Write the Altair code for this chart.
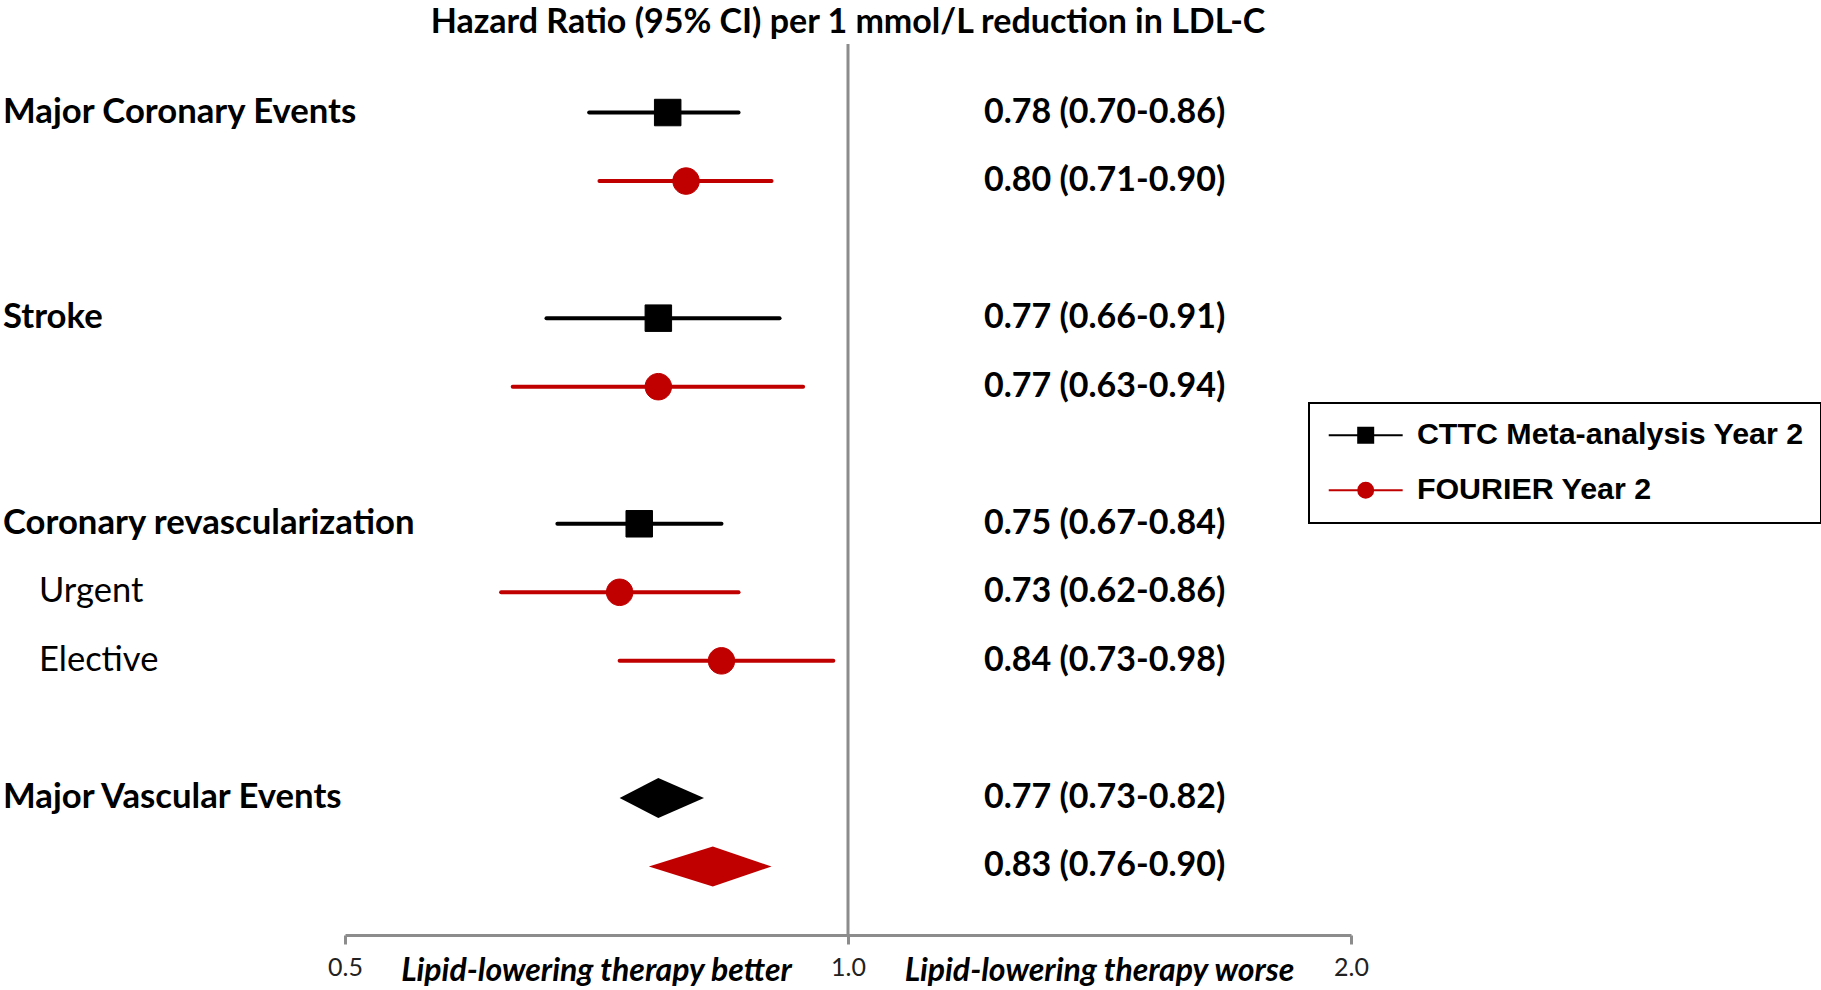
import math
import altair as alt
import pandas as pd

# ---------------- data ----------------
series_names = ["CTTC Meta-analysis Year 2", "FOURIER Year 2"]
series_colors = ["#000000", "#C00000"]

row_pos = [0, 1, 3, 4, 6, 7, 8, 10, 11]
row_series = [0, 1, 0, 1, 0, 1, 1, 0, 1]
hr_est = [0.78, 0.80, 0.77, 0.77, 0.75, 0.73, 0.84, 0.77, 0.83]
ci_low = [0.70, 0.71, 0.66, 0.63, 0.67, 0.62, 0.73, 0.73, 0.76]
ci_high = [0.86, 0.90, 0.91, 0.94, 0.84, 0.86, 0.98, 0.82, 0.90]
row_kind = ["ci", "ci", "ci", "ci", "ci", "ci", "ci", "diamond", "diamond"]

header_rows = [0, 3, 6, 10]
header_labels = ["Major Coronary Events", "Stroke", "Coronary revascularization", "Major Vascular Events"]
sub_rows = [7, 8]
sub_labels = ["Urgent", "Elective"]

x_ticks = [0.5, 1.0, 2.0]
title_text = "Hazard Ratio (95% CI) per 1 mmol/L reduction in LDL-C"
side_texts = ["Lipid-lowering therapy better", "Lipid-lowering therapy worse"]

# ---------------- styling ----------------
FONT = "Lato"
GRAY = "#8c8c8c"
W, H = 1006, 891
DIAMOND_HALF = 0.292  # half height of summary diamond, in row units

df = pd.DataFrame({
    "row": row_pos,
    "series": [series_names[i] for i in row_series],
    "hr": hr_est,
    "lo": ci_low,
    "hi": ci_high,
    "kind": row_kind,
})
df["label"] = [f"{e:.2f} ({l:.2f}-{h:.2f})" for e, l, h in zip(hr_est, ci_low, ci_high)]
ci_df = df[df["kind"] == "ci"]

dia = df[df["kind"] == "diamond"]
poly = []
for _, r in dia.iterrows():
    rw = float(r["row"])
    poly.append({"grp": int(r["row"]), "series": r["series"], "px": float(r["lo"]), "ylo": rw, "yhi": rw, "k": 0})
    poly.append({"grp": int(r["row"]), "series": r["series"], "px": float(r["hr"]), "ylo": rw - DIAMOND_HALF, "yhi": rw + DIAMOND_HALF, "k": 1})
    poly.append({"grp": int(r["row"]), "series": r["series"], "px": float(r["hi"]), "ylo": rw, "yhi": rw, "k": 2})
poly_df = pd.DataFrame(poly)

head_df = pd.DataFrame({"row": header_rows, "text": header_labels})
sub_df = pd.DataFrame({"row": sub_rows, "text": sub_labels})
side_df = pd.DataFrame({
    "pos": [math.sqrt(x_ticks[0] * x_ticks[1]), math.sqrt(x_ticks[1] * x_ticks[2])],
    "text": side_texts,
})
ref_df = pd.DataFrame({"ref": [x_ticks[1]]})

# ---------------- scales ----------------
x_scale = alt.Scale(type="log", base=2, domain=[x_ticks[0], x_ticks[-1]], nice=False)
x_axis = alt.Axis(values=x_ticks, format=".1f", title=None, grid=False,
                  domainColor=GRAY, domainWidth=3, tickColor=GRAY, tickWidth=3, tickSize=9,
                  labelFont=FONT, labelFontSize=25, labelColor="#222222", labelPadding=11,
                  labelFlush=False, labelOverlap=False)
y_scale = alt.Scale(domain=[-1, 12], reverse=True, nice=False, zero=False)
color_scale = alt.Scale(domain=series_names, range=series_colors)
L = 4.93
shape_scale = alt.Scale(domain=series_names, range=[
    f"M-{L},0H{L}M-1,-1H1V1H-1Z",
    f"M-{L},0H{L}M-1,0A1,1,0,1,0,1,0A1,1,0,1,0,-1,0Z",
])
leg = alt.Legend(orient="none", legendX=964, legendY=359, padding=17,
                 strokeColor="black", fillColor="white",
                 labelFont="Liberation Sans", labelFontSize=30.4, labelFontWeight="bold",
                 labelColor="black", labelLimit=700,
                 symbolSize=225, symbolStrokeWidth=2, symbolOffset=24.5, labelOffset=36,
                 rowPadding=24)

COLOR = alt.Color("series:N", scale=color_scale, legend=leg, title=None)
Y = alt.Y("row:Q", scale=y_scale, axis=None)

vline = alt.Chart(ref_df).mark_rule(color=GRAY, strokeWidth=3).encode(
    x=alt.X("ref:Q", scale=x_scale, axis=x_axis)
)

ci_rules = alt.Chart(ci_df).mark_rule(strokeWidth=4, strokeCap="round").encode(
    x=alt.X("lo:Q", scale=x_scale, axis=x_axis),
    x2="hi:Q",
    y=Y,
    color=COLOR,
)

points = alt.Chart(ci_df).mark_point(filled=True, opacity=1, strokeWidth=1, size=702).encode(
    x=alt.X("hr:Q", scale=x_scale, axis=x_axis),
    y=Y,
    color=COLOR,
    stroke=alt.Stroke("series:N", scale=color_scale, legend=leg, title=None),
    shape=alt.Shape("series:N", scale=shape_scale, legend=leg, title=None),
)

# summary diamonds: one filled area per summary row (lo -> estimate -> hi)
diamond_layers = []
for g in sorted(poly_df["grp"].unique()):
    part = poly_df[poly_df["grp"] == g].sort_values("k")
    diamond_layers.append(
        alt.Chart(part).mark_area(opacity=1, interpolate="linear").encode(
            x=alt.X("px:Q", scale=x_scale, axis=x_axis),
            y=alt.Y("ylo:Q", scale=y_scale, axis=None),
            y2="yhi:Q",
            color=COLOR,
        )
    )

right_text = alt.Chart(df).mark_text(align="left", baseline="middle", font=FONT, fontSize=34,
                                     fontWeight="bold", color="black").encode(
    x=alt.value(639), y=Y, text="label:N"
)

head_text = alt.Chart(head_df).mark_text(align="left", baseline="middle", font=FONT, fontSize=34.7,
                                         fontWeight="bold", color="black").encode(
    x=alt.value(-342), y=Y, text="text:N"
)

sub_text = alt.Chart(sub_df).mark_text(align="left", baseline="middle", font=FONT, fontSize=34.5,
                                       fontWeight="normal", color="black").encode(
    x=alt.value(-306), y=Y, text="text:N"
)

side_text = alt.Chart(side_df).mark_text(align="center", baseline="middle", font=FONT, fontSize=32,
                                         fontWeight="bold", fontStyle="italic", color="black").encode(
    x=alt.X("pos:Q", scale=x_scale, axis=x_axis), y=alt.value(927), text="text:N"
)

chart = alt.layer(vline, ci_rules, *diamond_layers, points, right_text, head_text, sub_text, side_text).properties(
    width=W, height=H,
    title=alt.TitleParams(text=title_text, font=FONT, fontSize=34, fontWeight="bold", color="black",
                          anchor="middle", frame="group", offset=3),
    autosize=alt.AutoSizeParams(type="none"),
    padding={"left": 345, "top": 44, "right": 470, "bottom": 55},
).configure_view(stroke="transparent").configure_legend(strokeWidth=2)

chart.save("out.html", embed_options={"renderer": "svg", "actions": False})
